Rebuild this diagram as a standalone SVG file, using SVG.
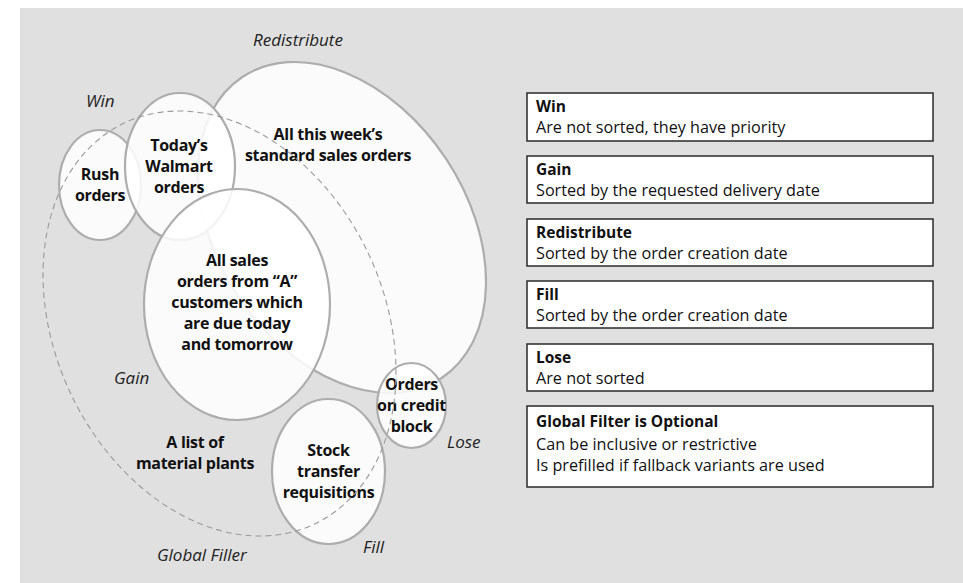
<svg xmlns="http://www.w3.org/2000/svg" width="963" height="583" viewBox="0 0 963 583">
  <style>
    .set { fill: #ffffff; fill-opacity: 0.85; stroke: #adadad; stroke-width: 2.2; }
    .filter { fill: none; stroke: #9a9a9a; stroke-width: 1.1; stroke-dasharray: 6 4; }
    .lbl { font-family: "Open Sans", "Liberation Sans", sans-serif; font-size: 16px; font-weight: bold; fill: #111; text-anchor: middle; letter-spacing: -0.3px; }
    .tag { font-family: "Open Sans", "Liberation Sans", sans-serif; font-size: 17px; font-style: italic; fill: #222; }
    .box { fill: #ffffff; stroke: #2a2a2a; stroke-width: 1.5; }
    .bt { font-family: "Open Sans", "Liberation Sans", sans-serif; font-size: 15.5px; font-weight: bold; fill: #111; }
    .bd { font-family: "Open Sans", "Liberation Sans", sans-serif; font-size: 16.2px; fill: #111; }
  </style>

  <!-- backdrop panel -->
  <rect x="20" y="8" width="943" height="575" fill="#e0e0e0"/>

  <!-- order sets -->
  <g id="redistribute">
    <ellipse class="set" cx="342" cy="227.5" rx="124.7" ry="180.5" transform="rotate(-33.5 342 227.5)"/>
    <text class="lbl" x="328" y="140">All this week’s</text>
    <text class="lbl" x="328" y="161">standard sales orders</text>
  </g>
  <g id="rush">
    <ellipse class="set" cx="100" cy="185" rx="41" ry="55"/>
  </g>
  <g id="walmart">
    <ellipse class="set" cx="180" cy="166.5" rx="55" ry="73.5"/>
  </g>
  <g id="a-customers">
    <ellipse class="set" cx="237" cy="304.5" rx="93" ry="115.5"/>
    <text class="lbl" x="237" y="266">All sales</text>
    <text class="lbl" x="237" y="287">orders from “A”</text>
    <text class="lbl" x="237" y="308">customers which</text>
    <text class="lbl" x="237" y="329">are due today</text>
    <text class="lbl" x="237" y="350">and tomorrow</text>
  </g>
  <g id="credit-block">
    <ellipse class="set" cx="411.5" cy="405.5" rx="34.5" ry="42.5"/>
    <text class="lbl" x="411.5" y="390">Orders</text>
    <text class="lbl" x="411.5" y="411">on credit</text>
    <text class="lbl" x="411.5" y="432">block</text>
  </g>
  <g id="stock-transfer">
    <ellipse class="set" cx="328.5" cy="471.5" rx="56.5" ry="72.5"/>
    <text class="lbl" x="328.5" y="456">Stock</text>
    <text class="lbl" x="328.5" y="477">transfer</text>
    <text class="lbl" x="328.5" y="498">requisitions</text>
  </g>
  <g id="labels-small">
    <text class="lbl" x="100" y="180">Rush</text>
    <text class="lbl" x="100" y="201">orders</text>
    <text class="lbl" x="179" y="151">Today’s</text>
    <text class="lbl" x="179" y="172">Walmart</text>
    <text class="lbl" x="179" y="193">orders</text>
  </g>

  <!-- global filter boundary -->
  <g id="global-filter">
    <ellipse class="filter" cx="219.5" cy="323.5" rx="164.5" ry="221.9" transform="rotate(-25.4 219.5 323.5)"/>
    <text class="lbl" x="195" y="448">A list of</text>
    <text class="lbl" x="195" y="469">material plants</text>
  </g>

  <!-- rule names -->
  <g id="tags">
    <text class="tag" x="253" y="46">Redistribute</text>
    <text class="tag" x="86" y="107">Win</text>
    <text class="tag" x="114" y="384">Gain</text>
    <text class="tag" x="447" y="448">Lose</text>
    <text class="tag" x="363" y="553">Fill</text>
    <text class="tag" x="157" y="561">Global Filler</text>
  </g>

  <!-- legend -->
  <g id="legend-win">
    <rect class="box" x="527" y="93" width="406" height="48"/>
    <text class="bt" x="536" y="112">Win</text>
    <text class="bd" x="536" y="133">Are not sorted, they have priority</text>
  </g>
  <g id="legend-gain">
    <rect class="box" x="527" y="156" width="406" height="47"/>
    <text class="bt" x="536" y="175">Gain</text>
    <text class="bd" x="536" y="196">Sorted by the requested delivery date</text>
  </g>
  <g id="legend-redistribute">
    <rect class="box" x="527" y="219" width="406" height="47"/>
    <text class="bt" x="536" y="238">Redistribute</text>
    <text class="bd" x="536" y="259">Sorted by the order creation date</text>
  </g>
  <g id="legend-fill">
    <rect class="box" x="527" y="281" width="406" height="47"/>
    <text class="bt" x="536" y="300">Fill</text>
    <text class="bd" x="536" y="321">Sorted by the order creation date</text>
  </g>
  <g id="legend-lose">
    <rect class="box" x="527" y="344" width="406" height="47"/>
    <text class="bt" x="536" y="363">Lose</text>
    <text class="bd" x="536" y="384">Are not sorted</text>
  </g>
  <g id="legend-global">
    <rect class="box" x="527" y="406" width="406" height="81"/>
    <text class="bt" x="536" y="427">Global Filter is Optional</text>
    <text class="bd" x="536" y="450">Can be inclusive or restrictive</text>
    <text class="bd" x="536" y="471">Is prefilled if fallback variants are used</text>
  </g>
</svg>
